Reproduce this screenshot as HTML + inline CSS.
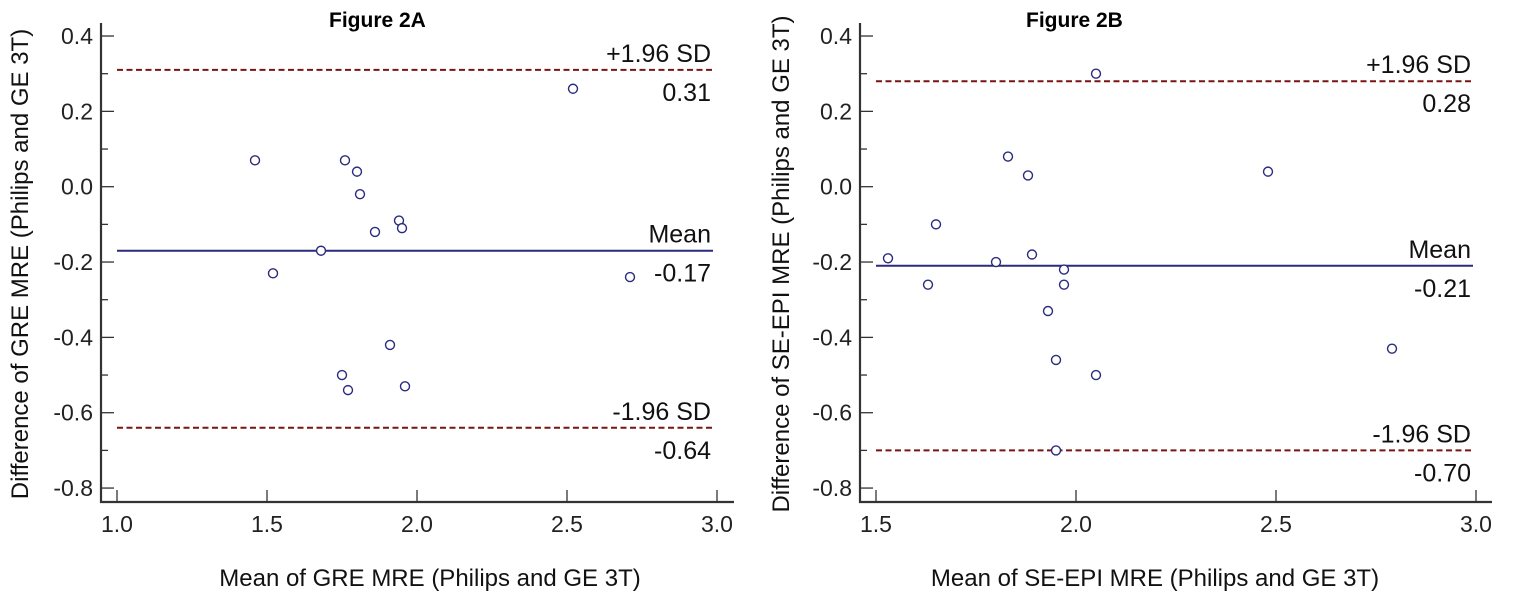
<!DOCTYPE html>
<html><head><meta charset="utf-8">
<style>
html,body{margin:0;padding:0;background:#fff;}
svg{display:block;}
.tick{font-family:"Liberation Sans",sans-serif;font-size:23px;fill:#222;}
.lbl{font-family:"Liberation Sans",sans-serif;font-size:25px;fill:#111;}
.ttl{font-family:"Liberation Sans",sans-serif;font-size:24px;fill:#111;}
.fig{font-family:"Liberation Sans",sans-serif;font-size:21px;font-weight:bold;fill:#000;}
</style></head>
<body>
<svg id="chart" width="1525" height="611" viewBox="0 0 1525 611" xmlns="http://www.w3.org/2000/svg"></svg>
<script>
// Panel A data
const aMeanX = [1.46,2.52,1.76,1.80,1.81,1.94,1.95,1.86,1.68,1.52,2.71,1.91,1.75,1.77,1.96];
const aDiffY = [0.07,0.26,0.07,0.04,-0.02,-0.09,-0.11,-0.12,-0.17,-0.23,-0.24,-0.42,-0.50,-0.54,-0.53];
const aLines = [0.31,-0.17,-0.64];
const aXTicks = [1.0,1.5,2.0,2.5,3.0];
// Panel B data
const bMeanX = [2.05,1.83,1.88,2.48,1.65,1.53,1.80,1.89,1.97,1.63,1.97,1.93,1.95,2.05,2.79,1.95];
const bDiffY = [0.30,0.08,0.03,0.04,-0.10,-0.19,-0.20,-0.18,-0.22,-0.26,-0.26,-0.33,-0.46,-0.50,-0.43,-0.70];
const bLines = [0.28,-0.21,-0.70];
const bXTicks = [1.5,2.0,2.5,3.0];
const yTicks = [0.4,0.2,0.0,-0.2,-0.4,-0.6,-0.8];

const NS="http://www.w3.org/2000/svg";
const svg=document.getElementById('chart');
function mk(tag,attrs,parent,text){const e=document.createElementNS(NS,tag);for(const k in attrs)e.setAttribute(k,attrs[k]);if(text!==undefined)e.textContent=text;(parent||svg).appendChild(e);return e;}

function panel(o){
  const g=mk('g',{});
  
  
  const xs=v=>o.x0+(v-o.xmin)*o.xpx;
  const ys=v=>186.7-v*376.7;
  const ax=mk('path',{d:`M${o.left},23 V502 H${o.right}`,stroke:'#333','stroke-width':2.2,fill:'none'},g);
  
  
  for(let i=0;i<=12;i++){const v=0.4-i*0.1;const y=ys(v);const major=i%2===0;
    mk('line',{x1:o.left,x2:o.left+(major?13:7),y1:y,y2:y,stroke:'#333','stroke-width':1.3},g);}
  yTicks.forEach(v=>{const t=mk('text',{x:o.left-8,y:ys(v)+8,'text-anchor':'end',class:'tick'},g,v.toFixed(1));
    
    });
  o.xticks.forEach(v=>{const x=xs(v);mk('line',{x1:x,x2:x,y1:502,y2:490,stroke:'#333','stroke-width':1.3},g);
    const t=mk('text',{x:x,y:532,'text-anchor':'middle',class:'tick'},g,v.toFixed(1));
    
    });
  const xa=xs(o.xmin), xb=o.lineEnd;
  const names=['upper-limit-line','mean-line','lower-limit-line'];
  const tops=['+1.96 SD','Mean','-1.96 SD'];
  o.lines.forEach((v,i)=>{const y=ys(v);
    const l=mk('line',{x1:xa,x2:xb,y1:y,y2:y,stroke:i===1?'#2b2b7e':'#7a1414','stroke-width':2,'stroke-dasharray':i===1?'none':'6,3.5'},g);
    
    
    const t1=mk('text',{x:xb-2,y:y-8,'text-anchor':'end',class:'lbl'},g,tops[i]);
    
    
    const t2=mk('text',{x:xb-2,y:y+31,'text-anchor':'end',class:'lbl'},g,v.toFixed(2));
    
    });
  o.xv.forEach((v,i)=>{const c=mk('circle',{cx:xs(v),cy:ys(o.yv[i]),r:4.5,fill:'#fff',stroke:'#2b2b7e','stroke-width':1.4},g);
    
    });
  const f=mk('text',{x:o.figX,y:27,class:'fig'},g,o.fig);
  
  
  const xt=mk('text',{x:o.xtX,y:586,'text-anchor':'middle',class:'ttl'},g,o.xt);
  
  
  const yt=mk('text',{x:0,y:0,'text-anchor':'middle',class:'ttl',transform:`translate(${o.ytX},264) rotate(-90)`},g,o.yt);
  
  
}
panel({name:'panel-2a',left:101,right:734,x0:117,xmin:1.0,xpx:300,xticks:aXTicks,lines:aLines,lineEnd:713,
  xv:aMeanX,yv:aDiffY,fig:'Figure 2A',figX:329,xt:'Mean of GRE MRE (Philips and GE 3T)',xtX:430,yt:'Difference of GRE MRE (Philips and GE 3T)',ytX:28});
panel({name:'panel-2b',left:860,right:1492,x0:876,xmin:1.5,xpx:400,xticks:bXTicks,lines:bLines,lineEnd:1473,
  xv:bMeanX,yv:bDiffY,fig:'Figure 2B',figX:1026,xt:'Mean of SE-EPI MRE (Philips and GE 3T)',xtX:1155,yt:'Difference of SE-EPI MRE (Philips and GE 3T)',ytX:789});
</script>
</body></html>
